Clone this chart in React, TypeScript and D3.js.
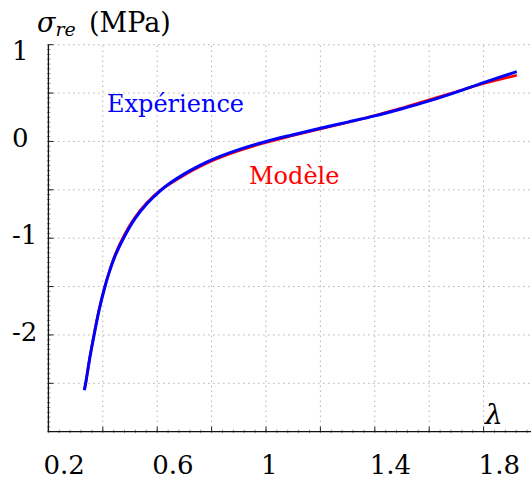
import React from 'react';
import * as d3 from 'd3';

// stretch ratio and stress
const lambdas = [0.332, 0.337, 0.352, 0.368, 0.386, 0.406, 0.425, 0.445, 0.479, 0.519, 0.562, 0.609, 0.65, 0.7, 0.75, 0.8, 0.9, 1.0, 1.1, 1.2, 1.3, 1.4, 1.5, 1.6, 1.7, 1.8, 1.922];
const experience = [-2.57, -2.5, -2.24, -2.0, -1.75, -1.52, -1.34, -1.185, -0.985, -0.795, -0.645, -0.515, -0.425, -0.335, -0.258, -0.19, -0.085, 0, 0.07, 0.137, 0.2, 0.264, 0.338, 0.419, 0.51, 0.608, 0.722];
const modele = [-2.57, -2.5, -2.235, -1.99, -1.74, -1.515, -1.335, -1.17, -0.965, -0.78, -0.633, -0.51, -0.433, -0.347, -0.271, -0.203, -0.097, -0.01, 0.062, 0.13, 0.197, 0.268, 0.345, 0.432, 0.515, 0.598, 0.684];

const xTicks = [0.2, 0.6, 1, 1.4, 1.8];
const xGrid = [0.4, 0.6, 0.8, 1.0, 1.2, 1.4, 1.6, 1.8];
const yTicks = [1, 0, -1, -2];
const yGrid = [1, 0.5, 0, -0.5, -1, -1.5, -2, -2.5];

const W = 531;
const H = 479;
const FONT = '"DejaVu Serif", "Liberation Serif", serif';

export default function App() {
  const x = d3.scaleLinear().domain([0.2, 1.8]).range([48.4, 483.6]);
  const y = d3.scaleLinear().domain([-3, 1]).range([431.7, 44.7]);
  const x0 = x(0.2);
  const yBottom = y(-3);

  const line = d3
    .line<number>()
    .x((_, i) => x(lambdas[i]))
    .y((d) => y(d))
    .curve(d3.curveCatmullRom.alpha(0.5));

  const xMinor = d3.range(0.2, 1.98, 0.04);
  const yMinor = d3.range(-3, 1.001, 0.05);
  const xMajor = d3.range(0.2, 1.98, 0.2);

  return (
    <svg width={W} height={H} style={{ position: 'absolute', left: 0, top: 0, background: '#fff' }}>
      {/* grid */}
      <g stroke="#8c8c8c" strokeWidth={1} strokeDasharray="1 4">
        {xGrid.map((v) => (
          <line key={'gx' + v} x1={x(v)} x2={x(v)} y1={yBottom} y2={y(1)} />
        ))}
        {yGrid.map((v) => (
          <line key={'gy' + v} x1={x0} x2={W} y1={y(v)} y2={y(v)} />
        ))}
      </g>

      {/* minor ticks */}
      <g stroke="#444" strokeWidth={0.6}>
        {xMinor.map((v, i) => (
          <line key={'mx' + i} x1={x(v)} x2={x(v)} y1={yBottom - 2} y2={yBottom + 1.5} />
        ))}
        {yMinor.map((v, i) => (
          <line key={'my' + i} x1={x0 - 1.5} x2={x0 + 2} y1={y(v)} y2={y(v)} />
        ))}
      </g>
      {/* major ticks */}
      <g stroke="#222" strokeWidth={1}>
        {xMajor.map((v, i) => (
          <line key={'Mx' + i} x1={x(v)} x2={x(v)} y1={yBottom} y2={yBottom - 5} />
        ))}
        {yGrid.map((v) => (
          <line key={'My' + v} x1={x0} x2={x0 + 5} y1={y(v)} y2={y(v)} />
        ))}
      </g>

      {/* axes */}
      <g stroke="#111" strokeWidth={1.3} fill="none">
        <line x1={x0} x2={x0} y1={y(1)} y2={yBottom} />
        <line x1={x0} x2={W} y1={yBottom} y2={yBottom} />
      </g>

      {/* curves */}
      <path d={line(modele) || ''} fill="none" stroke="#ff0000" strokeWidth={2.6} />
      <path d={line(experience) || ''} fill="none" stroke="#0000ff" strokeWidth={3} />

      {/* tick labels */}
      <g fontFamily={FONT} fontSize={26} fill="#000">
        {xTicks.map((v) => (
          <text key={'tx' + v} x={x(v) - 5} y={474} textAnchor="start">
            {String(v)}
          </text>
        ))}
        {yTicks.map((v) => (
          <text key={'ty' + v} x={12} y={Math.max(y(v) + 6, 60)} textAnchor="start">
            {v < 0 ? '-' + Math.abs(v) : String(v)}
          </text>
        ))}
      </g>

      {/* axis titles */}
      <text x={37} y={32} fontFamily={FONT} fontSize={27} fontStyle="italic">
        σ
        <tspan fontSize={19} dy={4}>re</tspan>
      </text>
      <text x={89} y={32} fontFamily={FONT} fontSize={27}>
        (MPa)
      </text>
      <text x={485} y={424} fontFamily={FONT} fontSize={28} fontStyle="italic">
        λ
      </text>

      {/* legends */}
      <text x={107} y={112} fontFamily={FONT} fontSize={24} fill="#0000ff">
        Expérience
      </text>
      <text x={249} y={184} fontFamily={FONT} fontSize={24} fill="#ff0000">
        Modèle
      </text>
    </svg>
  );
}
